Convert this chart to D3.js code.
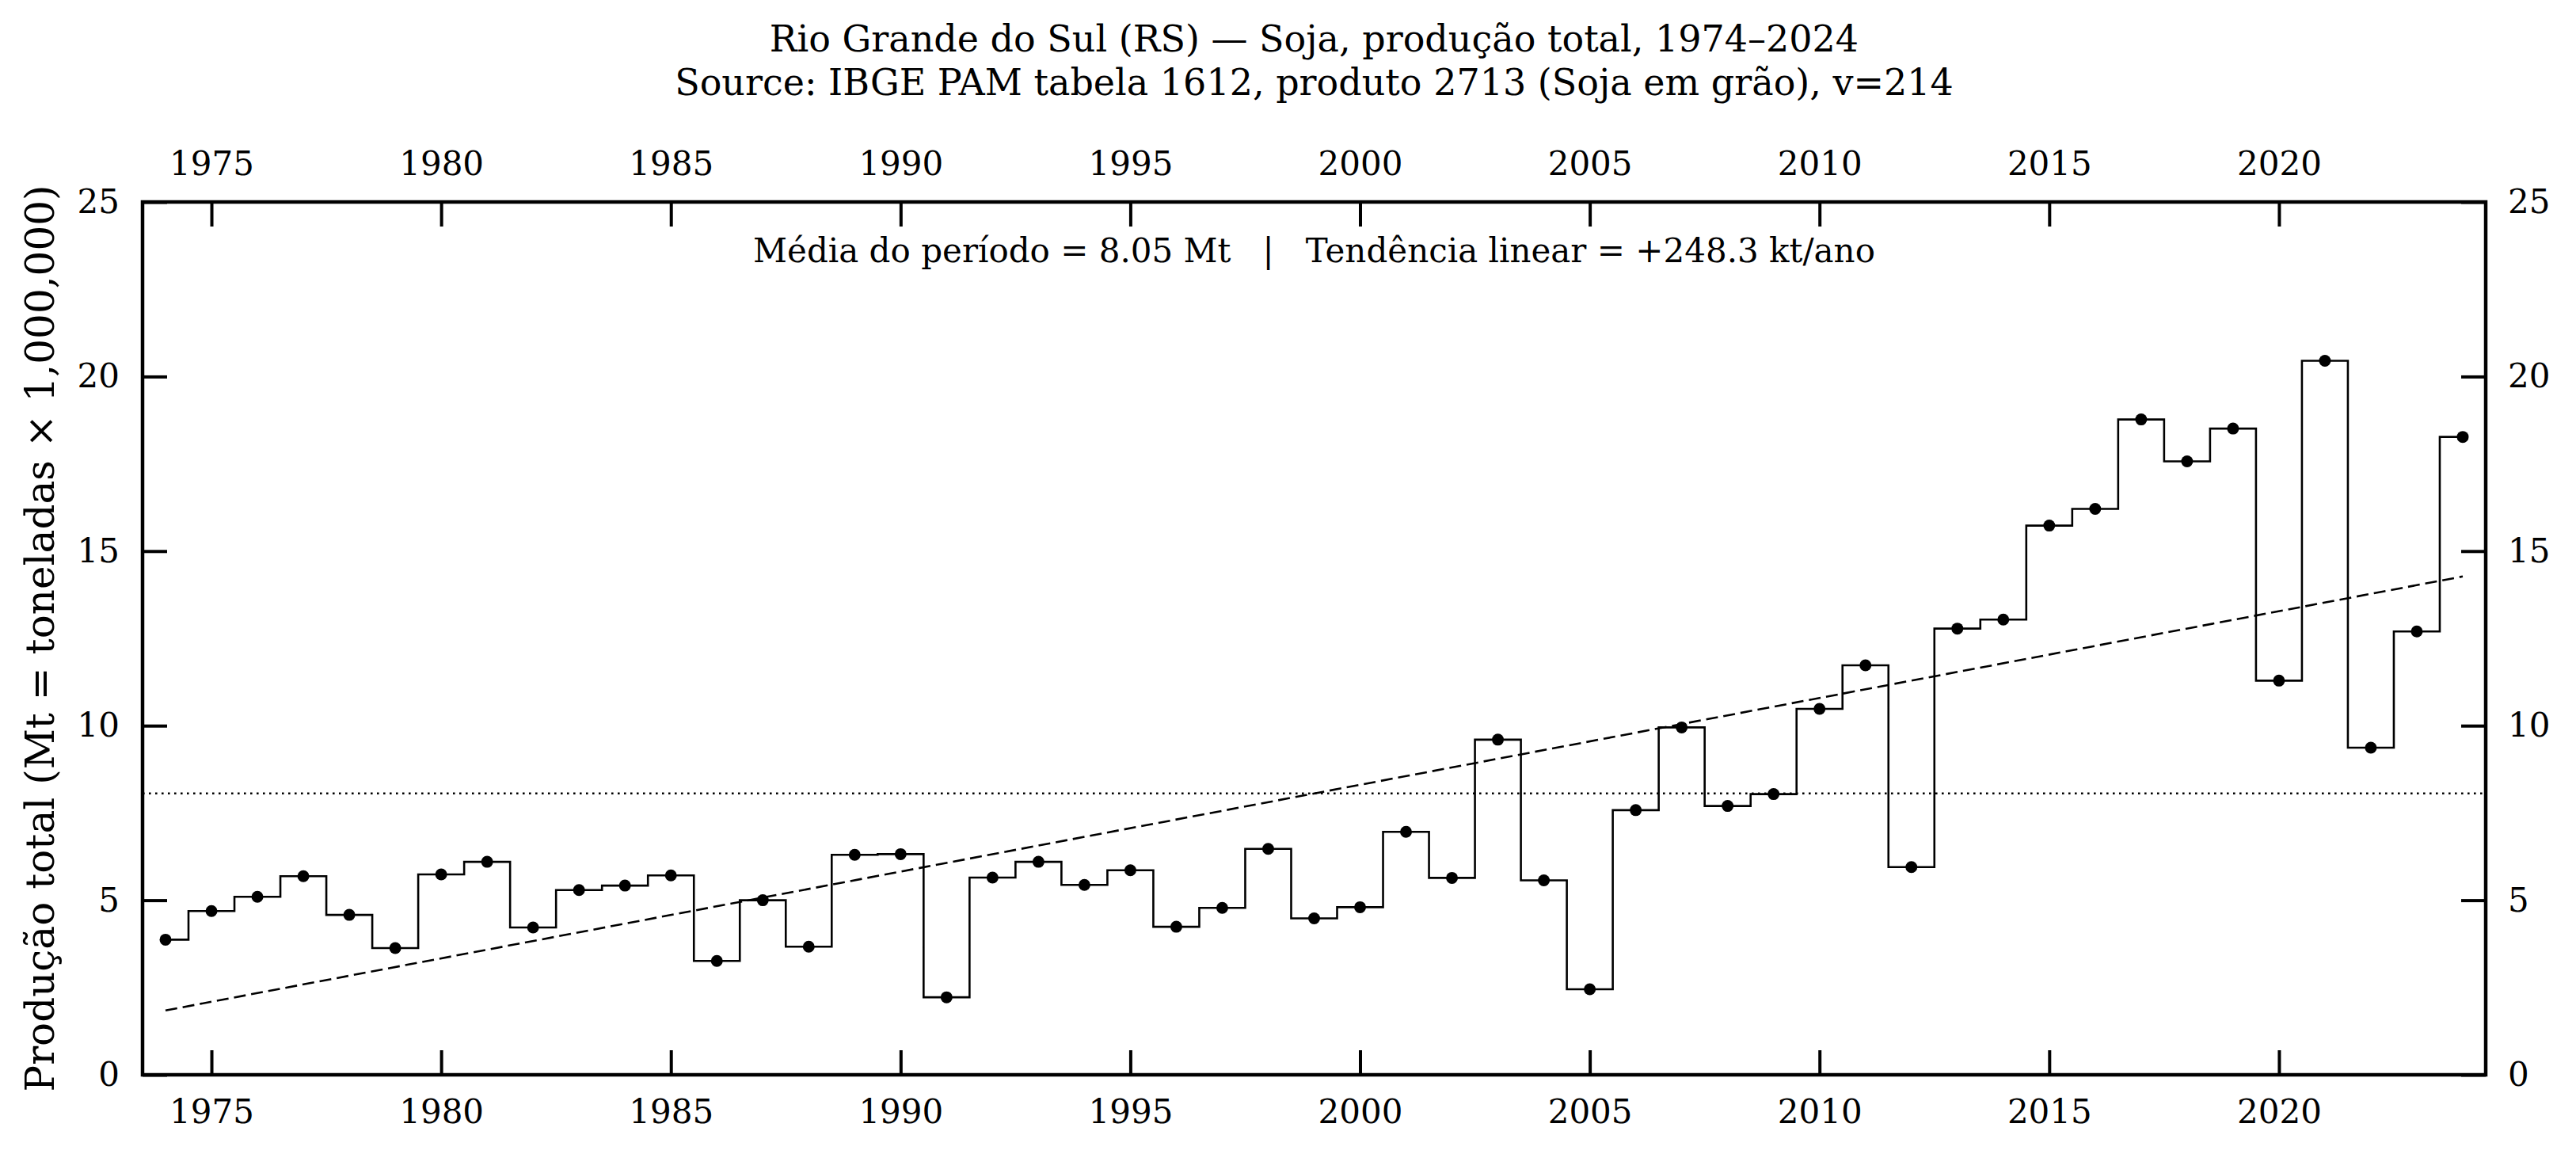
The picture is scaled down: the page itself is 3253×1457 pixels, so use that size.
<!DOCTYPE html>
<html>
<head>
<meta charset="utf-8">
<script src="https://cdn.jsdelivr.net/npm/d3@7"></script>
<style>
  html, body { margin: 0; padding: 0; background: #fff; }
  svg { display: block; }
</style>
</head>
<body>
<svg id="chart" width="3253" height="1457" font-family="DejaVu Serif"></svg>
<script>
const years = d3.range(1974, 2025);
const production = [
  3.87, 4.69, 5.10, 5.69, 4.58, 3.63, 5.74, 6.10, 4.22, 5.29,
  5.42, 5.71, 3.26, 5.00, 3.67, 6.30, 6.32, 2.22, 5.65, 6.10,
  5.44, 5.86, 4.24, 4.78, 6.47, 4.48, 4.80, 6.96, 5.64, 9.60,
  5.57, 2.45, 7.58, 9.95, 7.70, 8.04, 10.48, 11.73, 5.95, 12.78,
  13.04, 15.73, 16.21, 18.77, 17.57, 18.51, 11.29, 20.45, 9.37, 12.70,
  18.27
];
const xTicks = [1975, 1980, 1985, 1990, 1995, 2000, 2005, 2010, 2015, 2020];
const yTicks = [0, 5, 10, 15, 20, 25];
const titleLines = [
  "Rio Grande do Sul (RS) — Soja, produção total, 1974–2024",
  "Source: IBGE PAM tabela 1612, produto 2713 (Soja em grão), v=214"
];
const meanLabel = "Média do período = 8.05 Mt";
const trendLabel = "Tendência linear = +248.3 kt/ano";
const yLabel = "Produção total (Mt = toneladas × 1,000,000)";

const data = years.map((y, i) => ({ year: y, value: production[i] }));

const FONT = '"DejaVu Serif", serif';
const svg = d3.select("#chart");
const L = 180, R = 3139, T = 255, B = 1357;

const x = d3.scaleLinear().domain([1973.5, 2024.5]).range([L, R]);
const y = d3.scaleLinear().domain([0, 25]).range([B, T]);

// stats
const mean = d3.mean(production);
const xm = d3.mean(years);
let num = 0, den = 0;
years.forEach((yr, i) => { num += (yr - xm) * (production[i] - mean); den += (yr - xm) * (yr - xm); });
const slope = num / den, intercept = mean - slope * xm;

const fs = 42;
const tickLen = 31;

// mean line
svg.append("line")
  .attr("x1", L).attr("x2", R)
  .attr("y1", y(mean)).attr("y2", y(mean))
  .attr("stroke", "#000").attr("stroke-width", 2.6)
  .attr("stroke-dasharray", "2.6,5.4");

// trend line
const tYears = [years[0], years[years.length - 1]];
svg.append("line")
  .attr("x1", x(tYears[0])).attr("y1", y(intercept + slope * tYears[0]))
  .attr("x2", x(tYears[1])).attr("y2", y(intercept + slope * tYears[1]))
  .attr("stroke", "#000").attr("stroke-width", 2.6)
  .attr("stroke-dasharray", "15,7");

// step line
const line = d3.line().x(d => x(d.year)).y(d => y(d.value)).curve(d3.curveStep);
svg.append("path").datum(data)
  .attr("d", line).attr("fill", "none")
  .attr("stroke", "#000").attr("stroke-width", 2.6);

// markers
svg.append("g").selectAll("circle").data(data).join("circle")
  .attr("cx", d => x(d.year)).attr("cy", d => y(d.value)).attr("r", 7.5)
  .attr("fill", "#000");

// axes
function styleAxis(g) {
  g.attr("font-family", null).attr("font-size", null);
  g.select(".domain").remove();
  g.selectAll(".tick line").attr("stroke", "#000").attr("stroke-width", 4);
  g.selectAll(".tick text").style("font-family", FONT).style("font-size", fs + "px").attr("fill", "#000");
}
const axB = d3.axisBottom(x).tickValues(xTicks).tickFormat(d3.format("d")).tickSizeInner(-tickLen).tickSizeOuter(0).tickPadding(31);
svg.append("g").attr("transform", `translate(0,${B})`).call(axB).call(styleAxis);
const axT = d3.axisTop(x).tickValues(xTicks).tickFormat(d3.format("d")).tickSizeInner(-tickLen).tickSizeOuter(0).tickPadding(34);
svg.append("g").attr("transform", `translate(0,${T})`).call(axT).call(styleAxis);
const axL = d3.axisLeft(y).tickValues(yTicks).tickFormat(d3.format("d")).tickSizeInner(-tickLen).tickSizeOuter(0).tickPadding(29);
svg.append("g").attr("transform", `translate(${L},0)`).call(axL).call(styleAxis);
const axR = d3.axisRight(y).tickValues(yTicks).tickFormat(d3.format("d")).tickSizeInner(-tickLen).tickSizeOuter(0).tickPadding(28);
svg.append("g").attr("transform", `translate(${R},0)`).call(axR).call(styleAxis);

// frame
svg.append("rect").attr("x", L).attr("y", T).attr("width", R - L).attr("height", B - T)
  .attr("fill", "none").attr("stroke", "#000").attr("stroke-width", 4.5);

// titles
svg.append("text").attr("x", (L + R) / 2).attr("y", 65).attr("text-anchor", "middle")
  .style("font-family", FONT).style("font-size", "46px").text(titleLines[0]);
svg.append("text").attr("x", (L + R) / 2).attr("y", 120).attr("text-anchor", "middle")
  .style("font-family", FONT).style("font-size", "46px").text(titleLines[1]);

// annotation
svg.append("text").attr("x", (L + R) / 2).attr("y", 331).attr("text-anchor", "middle")
  .style("font-family", FONT).style("font-size", "42px").style("white-space", "pre")
  .text(meanLabel + "   |   " + trendLabel);

// y label
svg.append("text").attr("transform", `translate(68,${(T + B) / 2}) rotate(-90)`)
  .attr("text-anchor", "middle").style("font-family", FONT).style("font-size", "50px").text(yLabel);
</script>
</body>
</html>
